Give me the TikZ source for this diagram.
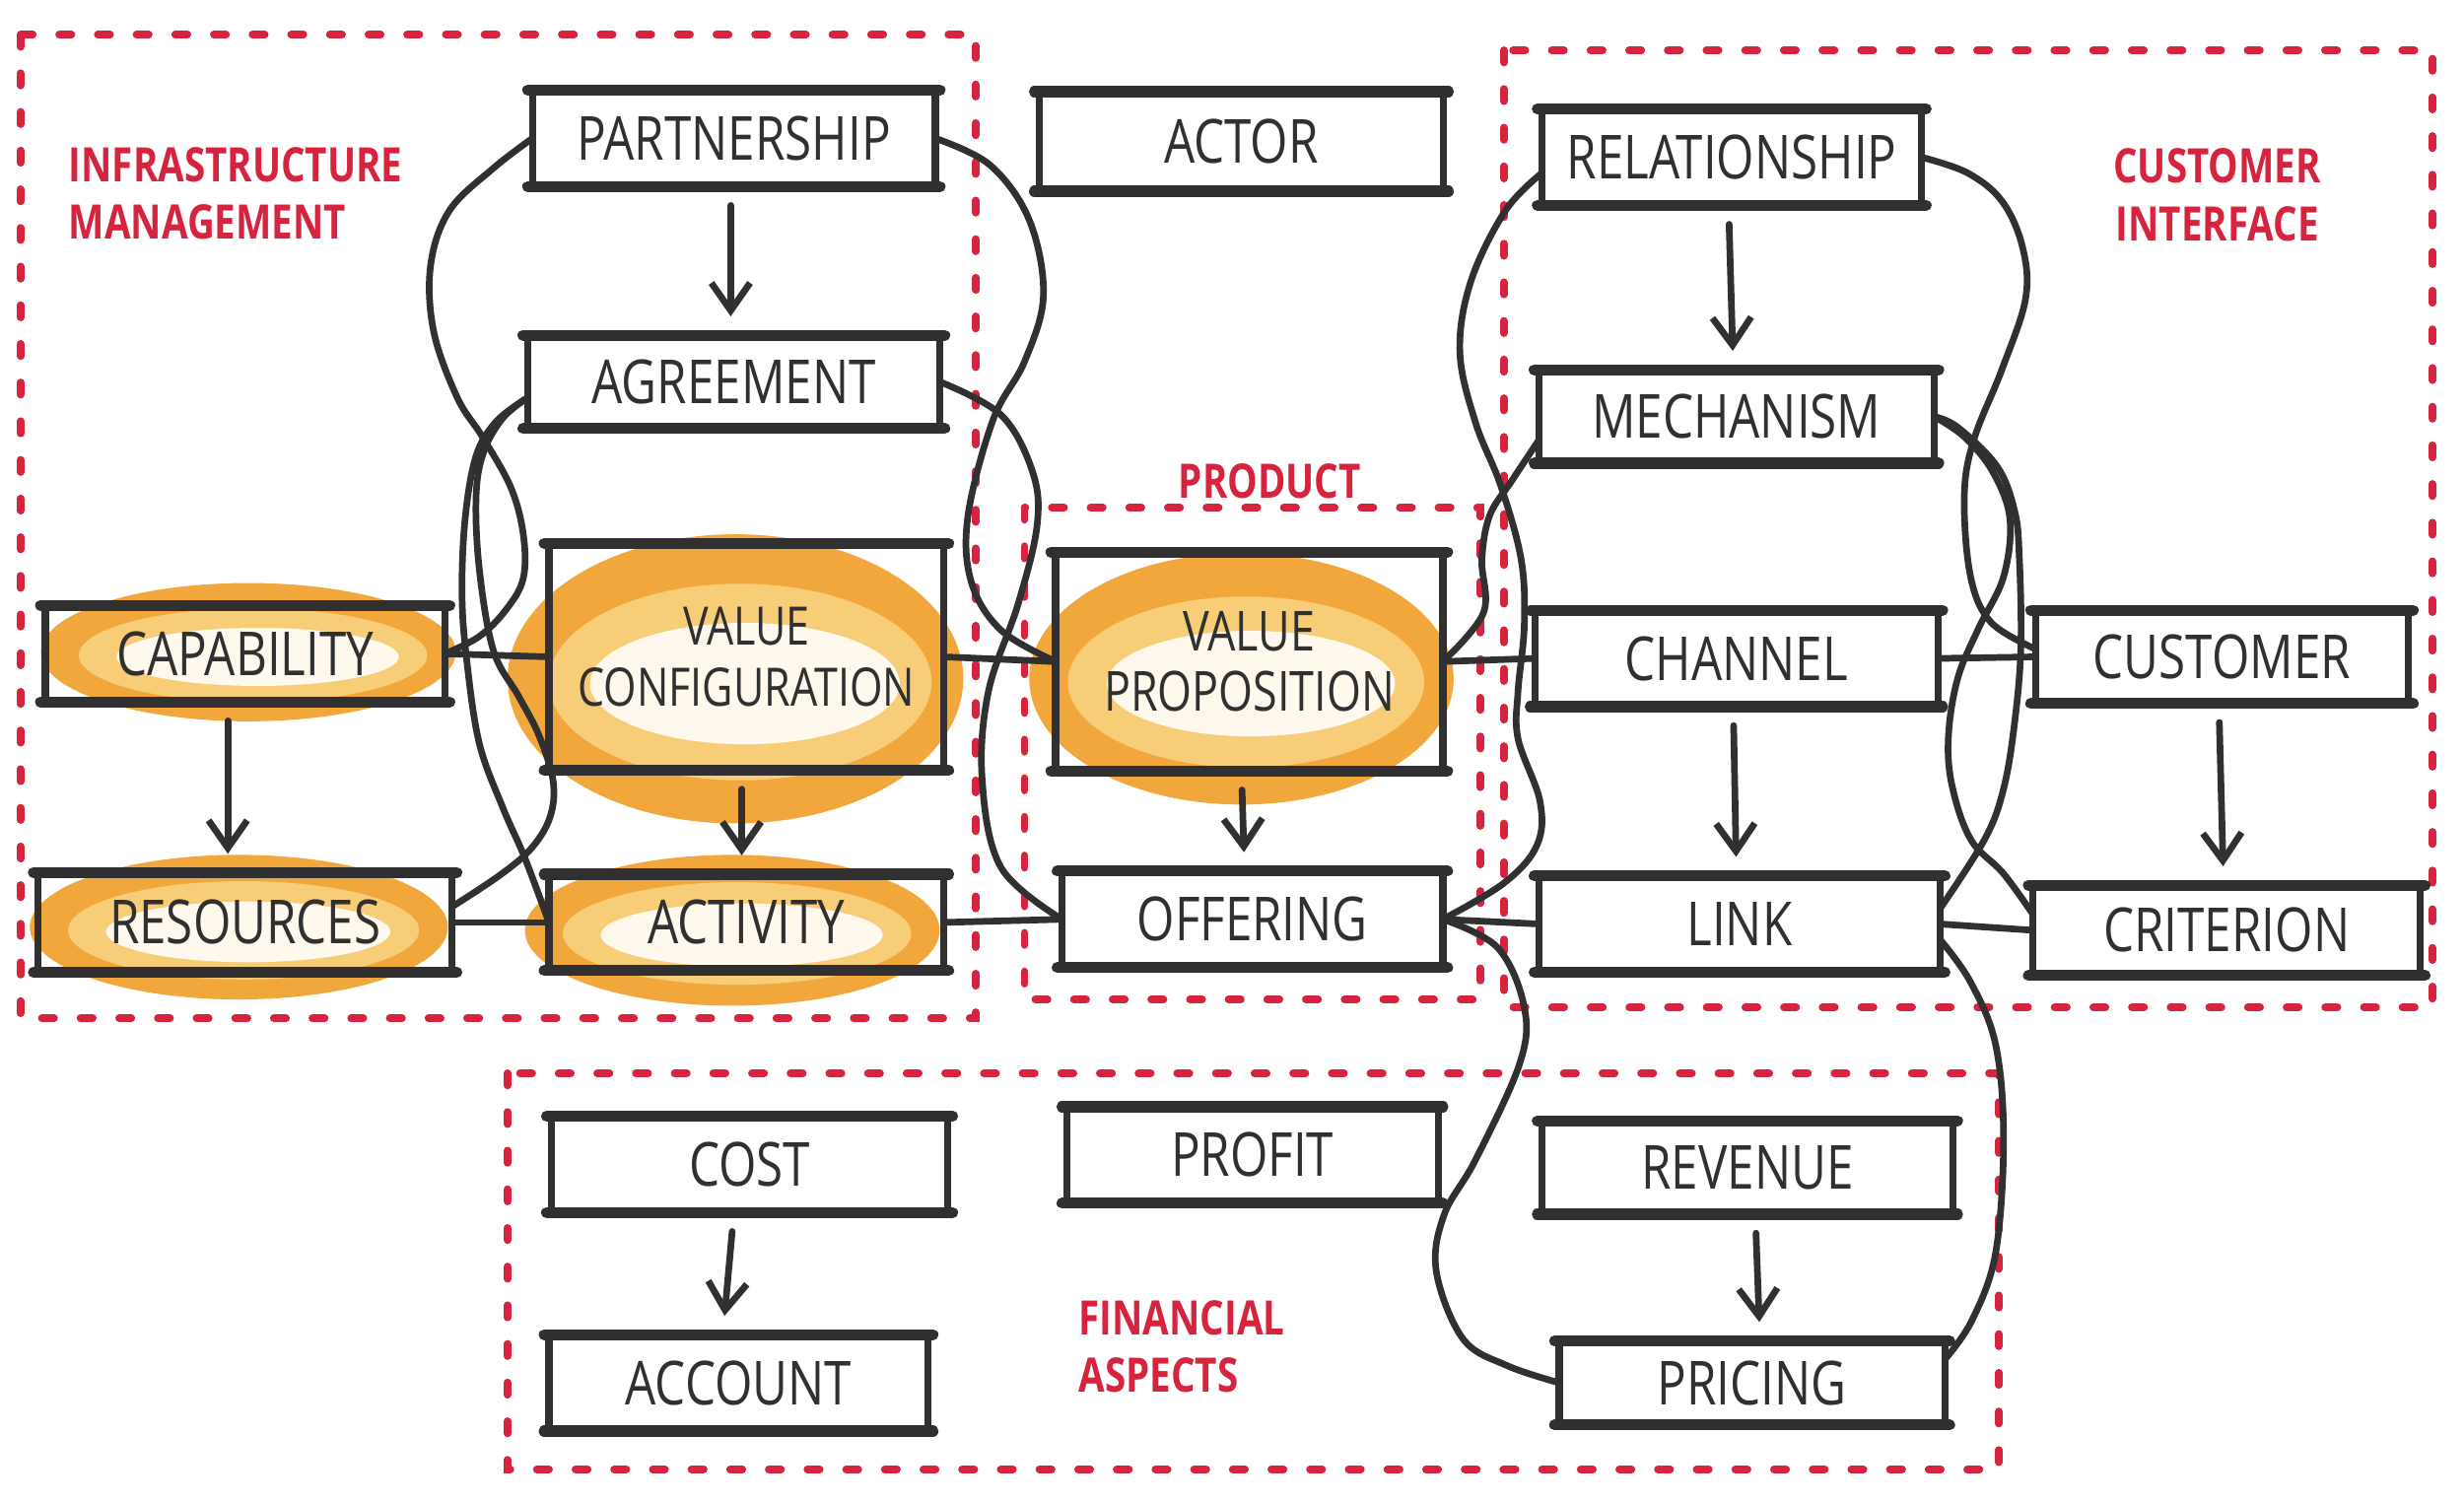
\documentclass[tikz,border=0pt]{standalone}
\usepackage{fontspec}
\setmainfont{Open Sans}[FakeStretch=0.8]
\usetikzlibrary{arrows.meta}
\definecolor{ink}{HTML}{303030}
\definecolor{mred}{HTML}{D6243F}
\definecolor{oring}{HTML}{F2A73C}
\definecolor{olight}{HTML}{F8CD78}
\definecolor{ocore}{HTML}{FFF8EC}
\tikzset{
  box/.style={inner sep=0pt, text=ink, font=\fontsize{11}{11.5}\selectfont, align=center, minimum height=6mm},
  sidestroke/.style={draw=ink, line width=1.3pt, line cap=round},
  barstroke/.style={draw=ink, line width=2pt, line cap=round},
  conn/.style={draw=ink, line width=1.2pt, line cap=round, line join=round},
  arr/.style={conn, -{Straight Barb[length=5pt,width=7pt,line width=1.2pt]}, shorten <=1.2mm, shorten >=1.2mm},
  region/.style={draw=mred, line width=1.4pt, line cap=round, dash pattern=on 2.2pt off 4.8pt},
  lab/.style={text=mred, inner sep=0pt, font=\bfseries\fontsize{8.6}{10.4}\selectfont},
}
\begin{document}
\begin{tikzpicture}[x=0.1mm,y=-0.1mm]
\useasboundingbox (0,0) rectangle (1568,956);
\fill[white] (0,0) rectangle (1568,956);

% orange marker highlights
\foreach \cx/\cy/\rx/\ry in {158/415/13.2/4.4, 152/590/13.3/4.6, 468/432/14.5/9.2, 466/592/13.2/4.8, 790/432/13.5/8.0}{
  \fill[oring] (\cx,\cy) ellipse [x radius=\rx*1mm, y radius=\ry*1mm];
  \fill[olight] (\cx+3,\cy+2) ellipse [x radius=0.84*\rx*1mm, y radius=0.68*\ry*1mm];
  \fill[ocore] (\cx+6,\cy+3) ellipse [x radius=0.68*\rx*1mm, y radius=0.42*\ry*1mm];
}

% red dashed regions
\draw[region] (13,22) rectangle (621,648);
\draw[region] (652,323) rectangle (942,636);
\draw[region] (957,32) rectangle (1548,641);
\draw[region] (323,683) rectangle (1272,935);

% region labels
\node[lab, align=left] (lim) at (150,123) {INFRASTRUCTURE\\MANAGEMENT};
\node[lab] (lprod) at (808,306) {PRODUCT};
\node[lab, align=center] (lci) at (1411,124) {CUSTOMER\\INTERFACE};
\node[lab, align=left] (lfa) at (752,857) {FINANCIAL\\ASPECTS};

% boxes
\node[box, minimum width=25.5mm] (part) at (467,88) {PARTNERSHIP};
\node[box, minimum width=25.6mm, minimum height=6.2mm] (actor) at (790,90) {ACTOR};
\node[box, minimum width=24.0mm] (rel) at (1102,100) {RELATIONSHIP};
\node[box, minimum width=26.1mm, minimum height=5.8mm] (agr) at (467,243) {AGREEMENT};
\node[box, minimum width=25.0mm, minimum height=5.8mm] (mech) at (1105,265) {MECHANISM};
\node[box, minimum width=25.3mm] (cap) at (156,416) {CAPABILITY};
\node[box, minimum width=25.0mm, minimum height=14.3mm, font=\fontsize{9.6}{11}\selectfont] (vc) at (475,418) {VALUE\\CONFIGURATION};
\node[box, minimum width=24.5mm, minimum height=13.8mm, font=\fontsize{10}{11}\selectfont] (vp) at (795,421) {VALUE\\PROPOSITION};
\node[box, minimum width=25.5mm] (chan) at (1105,419) {CHANNEL};
\node[box, minimum width=23.6mm, minimum height=5.8mm] (cust) at (1414,418) {CUSTOMER};
\node[box, minimum width=26.2mm, minimum height=6.2mm] (res) at (156,587) {RESOURCES};
\node[box, minimum width=25.0mm] (act) at (475,587) {ACTIVITY};
\node[box, minimum width=24.1mm] (off) at (797,585) {OFFERING};
\node[box, minimum width=25.4mm] (lnk) at (1107,588) {LINK};
\node[box, minimum width=24.5mm, minimum height=5.6mm] (crit) at (1417,592) {CRITERION};
\node[box, minimum width=25.1mm] (cost) at (477,741) {COST};
\node[box, minimum width=23.5mm] (prof) at (797,735) {PROFIT};
\node[box, minimum width=26.0mm, minimum height=5.8mm] (rev) at (1112,743) {REVENUE};
\node[box, minimum width=24.0mm] (acct) at (470,880) {ACCOUNT};
\node[box, minimum width=24.4mm, minimum height=5.2mm] (pric) at (1115,880) {PRICING};

\foreach \n in {part,actor,rel,agr,mech,cap,vc,vp,chan,cust,res,act,off,lnk,crit,cost,prof,rev,acct,pric}{
  \draw[sidestroke] (\n.north west) -- (\n.south west);
  \draw[sidestroke] (\n.north east) -- (\n.south east);
  \draw[barstroke] ([xshift=-0.3mm]\n.north west) -- ([xshift=0.3mm]\n.north east);
  \draw[barstroke] ([xshift=-0.3mm]\n.south west) -- ([xshift=0.3mm]\n.south east);
}

% vertical arrows
\draw[arr] ([xshift=-0.2mm]part.south) -- ([xshift=-0.2mm]agr.north);
\draw[arr] ([xshift=-1.1mm]cap.south) -- ([xshift=-1.1mm]res.north);
\draw[arr] ([xshift=-0.3mm]vc.south) -- ([xshift=-0.3mm]act.north);
\draw[arr] ([xshift=-0.5mm]vp.south) -- ([xshift=-0.5mm]off.north);
\draw[arr] ([xshift=-0.2mm]rel.south) -- ([xshift=-0.2mm]mech.north);
\draw[arr] ([xshift=-0.2mm]chan.south) -- ([xshift=-0.2mm]lnk.north);
\draw[arr] ([xshift=-0.2mm]cust.south) -- ([xshift=-0.2mm]crit.north);
\draw[arr] ([xshift=-1mm]cost.south) -- ([xshift=-1mm]acct.north);
\draw[arr] ([xshift=0.5mm]rev.south) -- ([xshift=0.5mm]pric.north);

% straight links
\draw[conn] (cap.east) -- (vc.west);
\draw[conn] (res.east) -- (act.west);
\draw[conn] (vc.east) -- (vp.west);
\draw[conn] (act.east) -- (off.west);
\draw[conn] (vp.east) -- (chan.west);
\draw[conn] (lnk.west) -- (off.east);
\draw[conn] (chan.east) -- (cust.west);
\draw[conn] (lnk.east) -- (crit.west);

% curved links, left group
\draw[conn] plot[smooth, tension=0.6] coordinates {(part.west) (314,107) (286,134) (274,169) (276,211) (291,253) (307,278) (325,310) (333,340) (333,368) (322,388) (305,405) (cap.east)};
\draw[conn] plot[smooth, tension=0.6] coordinates {([yshift=-1mm]agr.west) (316,268) (303,290) (296,330) (294,378) (297,420) (305,473) (320,514) (334,546) (act.west)};
\draw[conn] plot[smooth, tension=0.6] coordinates {([yshift=-1mm]agr.west) (320,266) (308,287) (303,315) (305,362) (314,414) (330,443) (343,468) (352,497) (350,520) (338,540) (318,557) ([yshift=1mm]res.east)};

% middle group
\draw[conn] plot[smooth, tension=0.6] coordinates {(part.east) (630,105) (655,140) (664,188) (652,230) (632,267) (616,328) (618,370) (637,401) (vp.west)};
\draw[conn] plot[smooth, tension=0.6] coordinates {(agr.east) (637,264) (657,300) (660,334) (648,384) (629,440) (625,496) (637,552) (off.west)};

% customer side
\draw[conn] plot[smooth, tension=0.6] coordinates {([yshift=-1mm]rel.west) (958,134) (936,179) (929,224) (939,269) (955,309) (968,356) (970,398) (966,440) (966,470) (980,510) (978,538) (957,562) (off.east)};
\draw[conn] plot[smooth, tension=0.6] coordinates {([yshift=-1.5mm]mech.west) (962,306) (948,328) (943,356) (944,390) (vp.east)};
\draw[conn] plot[smooth, tension=0.6] coordinates {(off.east) (953,603) (970,641) (967,677) (939,738) (919,773) (914,809) (931,852) (959,869) (pric.west)};
\draw[conn] plot[smooth, tension=0.6] coordinates {(rel.east) (1252,110) (1274,128) (1287,157) (1289,190) (1274,235) (1256,280) (1250,316) (1254,367) (1267,396) ([yshift=0.5mm]cust.west)};
\draw[conn] plot[smooth, tension=0.6] coordinates {(mech.east) (1246,272) (1271,297) (1282,325) (1285,354) (1286,412) (1282,460) (1275,502) (1263,534) ([yshift=1mm]lnk.east)};
\draw[conn] plot[smooth, tension=0.6] coordinates {(mech.east) (1250,278) (1268,300) (1279,330) (1275,367) (1259,400) (1246,431) (1240,467) (1242,499) (1254,534) (1275,556) ([yshift=1mm]crit.west)};
\draw[conn] plot[smooth, tension=0.6] coordinates {([yshift=-1mm]lnk.east) (1254,625) (1270,665) (1275,725) (1270,797) (1255,840) ([yshift=1.5mm]pric.east)};
\end{tikzpicture}
\end{document}
